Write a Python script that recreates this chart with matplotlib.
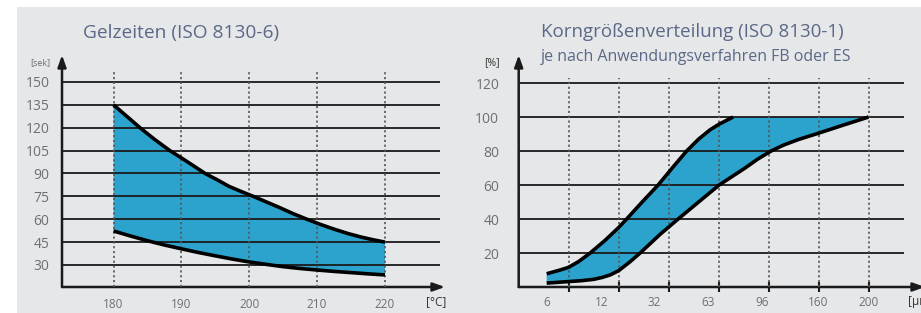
import numpy as np
import matplotlib.pyplot as plt
from matplotlib.patches import Rectangle

# --- Gelzeiten (ISO 8130-6) ---
gel_temps = [180, 190, 200, 210, 220]
gel_yticks = [30, 45, 60, 75, 90, 105, 120, 135, 150]
gel_upper_x = [180, 182, 183.9, 186, 188.3, 190, 191.8, 193.5, 195.3, 197, 198.8, 200.6,
               202.6, 204.5, 206.5, 208.5, 210.5, 212.5, 214.5, 216.5, 218.3, 220]
gel_upper_y = [135, 127.3, 120, 112.5, 105, 100.2, 95, 90, 85.8, 81.6, 78.2, 75,
               71.2, 67.6, 63.6, 60, 56.6, 53.5, 50.7, 48.3, 46.5, 45]
gel_lower_x = [180, 182.5, 185, 187.5, 190, 192.5, 195, 197.5, 200, 202.5, 205, 207.5,
               210, 212.5, 215, 217.5, 220]
gel_lower_y = [52.3, 49, 45.9, 43.1, 40.6, 38.2, 36, 33.9, 32, 30.4, 28.9, 27.7,
               26.7, 25.8, 25, 24.2, 23.5]

# --- Korngroessenverteilung (ISO 8130-1) ---
korn_labels = ['6', '12', '32', '63', '96', '160', '200']
korn_label_pos = [0.57, 1.66, 2.71, 3.79, 4.87, 6.0, 7.0]
korn_ticks = [1, 2, 3, 4, 5, 6, 7]
korn_yticks = [20, 40, 60, 80, 100, 120]
korn_upper_x = [0.56, 0.83, 1, 1.2, 1.43, 1.73, 2, 2.16, 2.47, 2.79, 3.1, 3.36, 3.6,
                3.83, 4.01, 4.19, 4.29, 7.0]
korn_upper_y = [7.8, 10, 11.6, 15, 20, 27.5, 35, 40, 50, 60, 71, 80, 87,
                92.5, 95.8, 98.5, 100, 100]
korn_lower_x = [0.56, 1, 1.25, 1.5, 1.67, 1.83, 2, 2.23, 2.43, 2.83, 3.19, 3.6, 4.01,
                4.53, 4.78, 5.05, 5.3, 5.6, 6, 6.5, 7]
korn_lower_y = [2.3, 3.2, 3.7, 4.5, 5.6, 7.1, 9.6, 14.9, 20, 31, 40, 50, 60,
                70, 75.2, 80, 83.5, 86.8, 90.5, 95.3, 100]

W, H = 921, 313
FILL = '#2ca3cd'
BG = '#e6e7e8'
TITLE = '#5b6887'
TICK = '#6f6f72'
FONT = 'Open Sans'

plt.rcParams['font.family'] = [FONT, 'DejaVu Sans']

fig = plt.figure(figsize=(W / 100, H / 100), dpi=100)
fig.patches.append(Rectangle((17 / W, 0), 1, (H - 7) / H, transform=fig.transFigure,
                             facecolor=BG, edgecolor='none', zorder=-10))


def px_axes(x0, y_top, x1, y_bot):
    return fig.add_axes([x0 / W, (H - y_bot) / H, (x1 - x0) / W, (y_bot - y_top) / H])


def draw_arrows(ax):
    kw = dict(arrowstyle='-|>,head_length=0.7,head_width=0.25', lw=1.8, color='#1a1a1a',
              mutation_scale=10, shrinkA=0, shrinkB=0)
    ax.annotate('', xy=(0, 1), xytext=(0, 0), xycoords='axes fraction', arrowprops=kw)
    ax.annotate('', xy=(1, 0), xytext=(0, 0), xycoords='axes fraction', arrowprops=kw)


def clean(ax):
    ax.set_facecolor('none')
    for s in ax.spines.values():
        s.set_visible(False)


curve_kw = dict(color='black', lw=2.6, zorder=5, solid_joinstyle='round', solid_capstyle='butt')

# ---------------- left chart ----------------
ax1 = px_axes(62, 55, 445, 287)
clean(ax1)
ax1.set_xlim(172.4, 228.85)
ax1.set_ylim(15.57, 167.7)
ax1.hlines(gel_yticks, 172.4, 228.1, color='#1a1a1a', lw=1.3, zorder=3)
ax1.vlines(gel_temps, 15.57, 156.6, color='#555555', lw=1.2, linestyles=(0, (1.3, 1.6)), zorder=4)
ax1.fill(gel_upper_x + gel_lower_x[::-1], gel_upper_y + gel_lower_y[::-1],
         color=FILL, lw=0, zorder=2)
ax1.plot(gel_upper_x, gel_upper_y, **curve_kw)
ax1.plot(gel_lower_x, gel_lower_y, **curve_kw)
ax1.set_yticks(gel_yticks)
ax1.set_yticklabels([str(v) for v in gel_yticks])
ax1.set_xticks(gel_temps)
ax1.set_xticklabels([str(v) for v in gel_temps])
ax1.tick_params(axis='y', length=0, pad=9, labelsize=10, labelcolor=TICK)
ax1.tick_params(axis='x', length=0, pad=8, labelsize=8.5, labelcolor=TICK)
draw_arrows(ax1)
fig.text(30 / W, 1 - 63 / H, '[sek]', fontsize=6.5, color=TICK, va='center')
fig.text(426 / W, 1 - 302 / H, '[°C]', fontsize=8.5, color='#333333', va='center')
fig.text(83 / W, 1 - 33 / H, 'Gelzeiten (ISO 8130-6)', fontsize=13.8, color=TITLE, va='center')

# ---------------- right chart ----------------
ax2 = px_axes(518.7, 55, 925, 287)
clean(ax2)
ax2.set_xlim(0, 8.13)
ax2.set_ylim(0, 136.5)
ax2.hlines(korn_yticks, 0, 7.71, color='#1a1a1a', lw=1.3, zorder=3)
ax2.vlines(korn_ticks, 0, 123, color='#555555', lw=1.2, linestyles=(0, (1.3, 1.6)), zorder=4)
ax2.fill(korn_upper_x + korn_lower_x[::-1], korn_upper_y + korn_lower_y[::-1],
         color=FILL, lw=0, zorder=2)
ax2.plot(korn_upper_x[:-1], korn_upper_y[:-1], **curve_kw)
ax2.plot(korn_lower_x, korn_lower_y, **curve_kw)
ax2.set_yticks(korn_yticks)
ax2.set_yticklabels([str(v) for v in korn_yticks])
ax2.set_xticks(korn_ticks)
ax2.set_xticklabels([])
ax2.tick_params(axis='y', length=0, pad=14, labelsize=10, labelcolor=TICK)
ax2.tick_params(axis='x', direction='inout', length=7, width=1.5, color='#1a1a1a')
for pos, lab in zip(korn_label_pos, korn_labels):
    ax2.text(pos, -0.065, lab, transform=ax2.get_xaxis_transform(), ha='center', va='center',
             fontsize=8.5, color=TICK)
draw_arrows(ax2)
fig.text(484 / W, 1 - 63 / H, '[%]', fontsize=7.5, color='#333333', va='center')
fig.text(908 / W, 1 - 302 / H, '[µm]', fontsize=8.5, color='#333333', va='center')
fig.text(541 / W, 1 - 32 / H, 'Korngrößenverteilung (ISO 8130-1)', fontsize=13.5,
         color=TITLE, va='center')
fig.text(541 / W, 1 - 57 / H, 'je nach Anwendungsverfahren FB oder ES', fontsize=11.5,
         color=TITLE, va='center')

fig.savefig('out.png', dpi=100)
